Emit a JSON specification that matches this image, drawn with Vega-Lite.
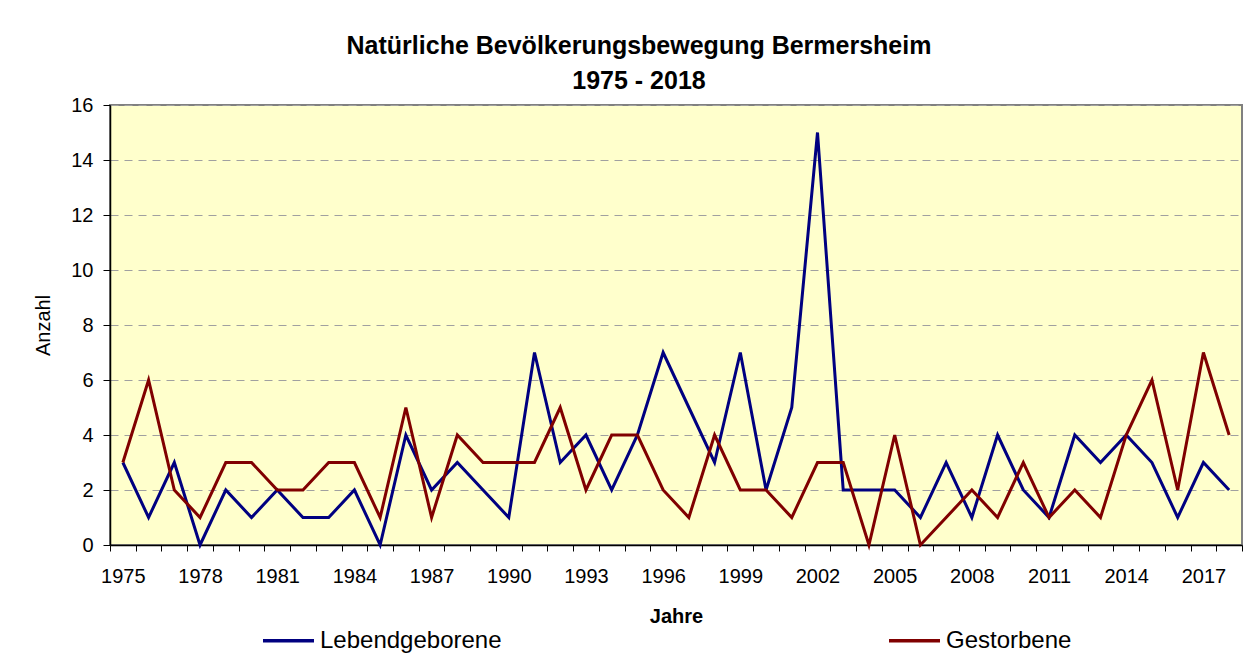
{
  "$schema": "https://vega.github.io/schema/vega-lite/v6.json",
  "width": 1132,
  "height": 440,
  "autosize": {"type": "none"},
  "padding": {"left": 110, "top": 105, "right": 15, "bottom": 112},
  "background": "white",
  "title": {
    "text": ["Natürliche Bevölkerungsbewegung Bermersheim", "1975 - 2018"],
    "font": "Liberation Sans",
    "fontSize": 25,
    "fontWeight": "bold",
    "color": "black",
    "lineHeight": 35,
    "anchor": "middle",
    "baseline": "alphabetic",
    "dx": -37,
    "offset": -19
  },
  "config": {
    "font": "Liberation Sans",
    "view": {"fill": "#FFFFCC", "stroke": "#808080", "strokeWidth": 2},
    "axis": {
      "labelFont": "Liberation Sans",
      "titleFont": "Liberation Sans",
      "labelColor": "black",
      "titleColor": "black",
      "domainColor": "black",
      "tickColor": "black",
      "domainWidth": 1.5,
      "tickWidth": 1
    }
  },
  "data": {
    "values": [
      {"year": 1975, "series": "Lebendgeborene", "value": 3},
      {"year": 1976, "series": "Lebendgeborene", "value": 1},
      {"year": 1977, "series": "Lebendgeborene", "value": 3},
      {"year": 1978, "series": "Lebendgeborene", "value": 0},
      {"year": 1979, "series": "Lebendgeborene", "value": 2},
      {"year": 1980, "series": "Lebendgeborene", "value": 1},
      {"year": 1981, "series": "Lebendgeborene", "value": 2},
      {"year": 1982, "series": "Lebendgeborene", "value": 1},
      {"year": 1983, "series": "Lebendgeborene", "value": 1},
      {"year": 1984, "series": "Lebendgeborene", "value": 2},
      {"year": 1985, "series": "Lebendgeborene", "value": 0},
      {"year": 1986, "series": "Lebendgeborene", "value": 4},
      {"year": 1987, "series": "Lebendgeborene", "value": 2},
      {"year": 1988, "series": "Lebendgeborene", "value": 3},
      {"year": 1989, "series": "Lebendgeborene", "value": 2},
      {"year": 1990, "series": "Lebendgeborene", "value": 1},
      {"year": 1991, "series": "Lebendgeborene", "value": 7},
      {"year": 1992, "series": "Lebendgeborene", "value": 3},
      {"year": 1993, "series": "Lebendgeborene", "value": 4},
      {"year": 1994, "series": "Lebendgeborene", "value": 2},
      {"year": 1995, "series": "Lebendgeborene", "value": 4},
      {"year": 1996, "series": "Lebendgeborene", "value": 7},
      {"year": 1997, "series": "Lebendgeborene", "value": 5},
      {"year": 1998, "series": "Lebendgeborene", "value": 3},
      {"year": 1999, "series": "Lebendgeborene", "value": 7},
      {"year": 2000, "series": "Lebendgeborene", "value": 2},
      {"year": 2001, "series": "Lebendgeborene", "value": 5},
      {"year": 2002, "series": "Lebendgeborene", "value": 15},
      {"year": 2003, "series": "Lebendgeborene", "value": 2},
      {"year": 2004, "series": "Lebendgeborene", "value": 2},
      {"year": 2005, "series": "Lebendgeborene", "value": 2},
      {"year": 2006, "series": "Lebendgeborene", "value": 1},
      {"year": 2007, "series": "Lebendgeborene", "value": 3},
      {"year": 2008, "series": "Lebendgeborene", "value": 1},
      {"year": 2009, "series": "Lebendgeborene", "value": 4},
      {"year": 2010, "series": "Lebendgeborene", "value": 2},
      {"year": 2011, "series": "Lebendgeborene", "value": 1},
      {"year": 2012, "series": "Lebendgeborene", "value": 4},
      {"year": 2013, "series": "Lebendgeborene", "value": 3},
      {"year": 2014, "series": "Lebendgeborene", "value": 4},
      {"year": 2015, "series": "Lebendgeborene", "value": 3},
      {"year": 2016, "series": "Lebendgeborene", "value": 1},
      {"year": 2017, "series": "Lebendgeborene", "value": 3},
      {"year": 2018, "series": "Lebendgeborene", "value": 2},
      {"year": 1975, "series": "Gestorbene", "value": 3},
      {"year": 1976, "series": "Gestorbene", "value": 6},
      {"year": 1977, "series": "Gestorbene", "value": 2},
      {"year": 1978, "series": "Gestorbene", "value": 1},
      {"year": 1979, "series": "Gestorbene", "value": 3},
      {"year": 1980, "series": "Gestorbene", "value": 3},
      {"year": 1981, "series": "Gestorbene", "value": 2},
      {"year": 1982, "series": "Gestorbene", "value": 2},
      {"year": 1983, "series": "Gestorbene", "value": 3},
      {"year": 1984, "series": "Gestorbene", "value": 3},
      {"year": 1985, "series": "Gestorbene", "value": 1},
      {"year": 1986, "series": "Gestorbene", "value": 5},
      {"year": 1987, "series": "Gestorbene", "value": 1},
      {"year": 1988, "series": "Gestorbene", "value": 4},
      {"year": 1989, "series": "Gestorbene", "value": 3},
      {"year": 1990, "series": "Gestorbene", "value": 3},
      {"year": 1991, "series": "Gestorbene", "value": 3},
      {"year": 1992, "series": "Gestorbene", "value": 5},
      {"year": 1993, "series": "Gestorbene", "value": 2},
      {"year": 1994, "series": "Gestorbene", "value": 4},
      {"year": 1995, "series": "Gestorbene", "value": 4},
      {"year": 1996, "series": "Gestorbene", "value": 2},
      {"year": 1997, "series": "Gestorbene", "value": 1},
      {"year": 1998, "series": "Gestorbene", "value": 4},
      {"year": 1999, "series": "Gestorbene", "value": 2},
      {"year": 2000, "series": "Gestorbene", "value": 2},
      {"year": 2001, "series": "Gestorbene", "value": 1},
      {"year": 2002, "series": "Gestorbene", "value": 3},
      {"year": 2003, "series": "Gestorbene", "value": 3},
      {"year": 2004, "series": "Gestorbene", "value": 0},
      {"year": 2005, "series": "Gestorbene", "value": 4},
      {"year": 2006, "series": "Gestorbene", "value": 0},
      {"year": 2007, "series": "Gestorbene", "value": 1},
      {"year": 2008, "series": "Gestorbene", "value": 2},
      {"year": 2009, "series": "Gestorbene", "value": 1},
      {"year": 2010, "series": "Gestorbene", "value": 3},
      {"year": 2011, "series": "Gestorbene", "value": 1},
      {"year": 2012, "series": "Gestorbene", "value": 2},
      {"year": 2013, "series": "Gestorbene", "value": 1},
      {"year": 2014, "series": "Gestorbene", "value": 4},
      {"year": 2015, "series": "Gestorbene", "value": 6},
      {"year": 2016, "series": "Gestorbene", "value": 2},
      {"year": 2017, "series": "Gestorbene", "value": 7},
      {"year": 2018, "series": "Gestorbene", "value": 4}
    ]
  },
  "mark": {"type": "line", "strokeWidth": 3, "strokeJoin": "miter", "strokeCap": "butt"},
  "encoding": {
    "x": {
      "field": "year",
      "type": "ordinal",
      "bandPosition": 0.5,
      "scale": {"type": "band", "paddingInner": 0, "paddingOuter": 0},
      "axis": {
        "title": "Jahre",
        "titleFontSize": 20,
        "titleFontWeight": "bold",
        "titlePadding": 20,
        "labelFontSize": 20,
        "labelAngle": 0,
        "labelPadding": 15,
        "labelOverlap": false,
        "labelFlush": false,
        "labelExpr": "(datum.value - 1975) % 3 == 0 ? datum.label : ''",
        "tickBand": "extent",
        "tickSize": 6,
        "grid": false
      }
    },
    "y": {
      "field": "value",
      "type": "quantitative",
      "scale": {"domain": [0, 16], "nice": false},
      "axis": {
        "title": "Anzahl",
        "titleFontSize": 20,
        "titleFontWeight": "normal",
        "titlePadding": 17,
        "labelFontSize": 20,
        "labelPadding": 10,
        "tickSize": 7,
        "values": [0, 2, 4, 6, 8, 10, 12, 14, 16],
        "grid": true,
        "gridColor": "#A0A0A0",
        "gridDash": [8, 6],
        "gridWidth": 1
      }
    },
    "color": {
      "field": "series",
      "type": "nominal",
      "scale": {"domain": ["Lebendgeborene", "Gestorbene"], "range": ["#000080", "#800000"]},
      "legend": {
        "title": null,
        "orient": "none",
        "direction": "horizontal",
        "legendX": 151,
        "legendY": 508,
        "padding": 0,
        "symbolType": "stroke",
        "symbolSize": 2601,
        "symbolStrokeWidth": 3.5,
        "labelFont": "Liberation Sans",
        "labelFontSize": 24,
        "labelColor": "black",
        "labelLimit": 400,
        "labelOffset": 4,
        "columnPadding": 380
      }
    }
  }
}
